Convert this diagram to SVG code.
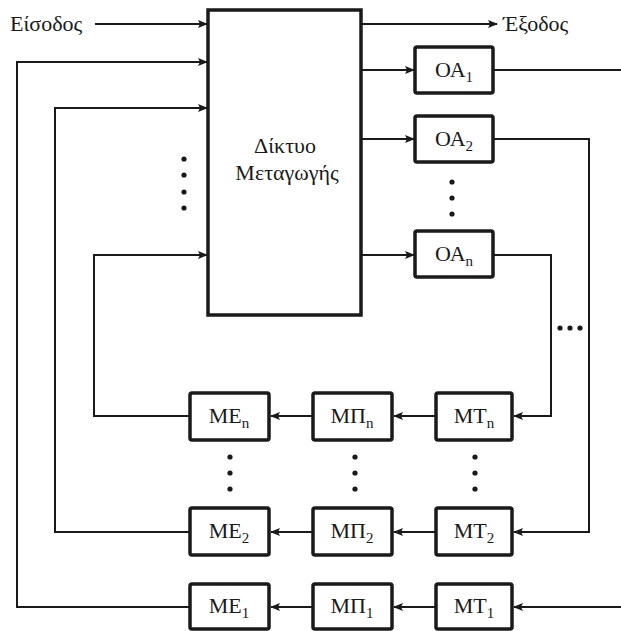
<svg xmlns="http://www.w3.org/2000/svg" width="621" height="631" viewBox="0 0 621 631">
<style>
.box{fill:#fff;stroke:#1a1a1a;stroke-width:3.5}
.ln{fill:none;stroke:#1a1a1a;stroke-width:2}
.t{font-family:"Liberation Serif","DejaVu Serif",serif;font-size:22px;fill:#1a1a1a}
.c{text-anchor:middle}
.s{font-size:15px}
.dot{fill:#1a1a1a}
</style>
<defs>
<marker id="ah" markerWidth="10" markerHeight="8" refX="9" refY="4" orient="auto" markerUnits="userSpaceOnUse">
<path d="M0,0 L10,4 L0,8 L2,4 Z" fill="#1a1a1a"/>
</marker>
</defs>
<rect width="621" height="631" fill="#fff"/>
<g id="connectors">
<path class="ln" d="M95,24 H207" marker-end="url(#ah)"/>
<path class="ln" d="M362,24 H497" marker-end="url(#ah)"/>
<path class="ln" d="M362,70 H414" marker-end="url(#ah)"/>
<path class="ln" d="M362,139 H414" marker-end="url(#ah)"/>
<path class="ln" d="M362,255 H414" marker-end="url(#ah)"/>
<path class="ln" d="M494,70 H621"/>
<path class="ln" d="M494,139 H589 V532 H514" marker-end="url(#ah)"/>
<path class="ln" d="M494,255 H551 V416 H514" marker-end="url(#ah)"/>
<path class="ln" d="M621,607 H514" marker-end="url(#ah)"/>
<path class="ln" d="M436,416 H394" marker-end="url(#ah)"/>
<path class="ln" d="M313,416 H271" marker-end="url(#ah)"/>
<path class="ln" d="M436,532 H394" marker-end="url(#ah)"/>
<path class="ln" d="M313,532 H271" marker-end="url(#ah)"/>
<path class="ln" d="M436,607 H394" marker-end="url(#ah)"/>
<path class="ln" d="M313,607 H271" marker-end="url(#ah)"/>
<path class="ln" d="M190,416 H94 V255 H207" marker-end="url(#ah)"/>
<path class="ln" d="M190,532 H55 V108 H207" marker-end="url(#ah)"/>
<path class="ln" d="M190,607 H17 V62 H207" marker-end="url(#ah)"/>
</g>
<g id="labels">
<text class="t" x="10" y="31">Είσοδος</text>
<text class="t" x="503" y="31">Έξοδος</text>
</g>
<g id="switch">
<rect class="box" x="208" y="10" width="153" height="305"/>
<text class="t c" x="285" y="153">Δίκτυο</text>
<text class="t c" x="287" y="180">Μεταγωγής</text>
</g>
<g id="oa1"><rect class="box" x="415" y="47" width="78" height="46" rx="2"/><text class="t c" x="454" y="77">ΟΑ<tspan class="s" dy="5">1</tspan></text></g>
<g id="oa2"><rect class="box" x="415" y="116" width="78" height="46" rx="2"/><text class="t c" x="454" y="146">ΟΑ<tspan class="s" dy="5">2</tspan></text></g>
<g id="oan"><rect class="box" x="415" y="231" width="78" height="46" rx="2"/><text class="t c" x="454" y="261">ΟΑ<tspan class="s" dy="5">n</tspan></text></g>
<g id="men"><rect class="box" x="190" y="393" width="79" height="47" rx="2"/><text class="t c" x="229" y="423">ΜΕ<tspan class="s" dy="5">n</tspan></text></g>
<g id="mpn"><rect class="box" x="313" y="393" width="79" height="47" rx="2"/><text class="t c" x="352" y="423">ΜΠ<tspan class="s" dy="5">n</tspan></text></g>
<g id="mtn"><rect class="box" x="436" y="393" width="76" height="47" rx="2"/><text class="t c" x="474" y="423">ΜΤ<tspan class="s" dy="5">n</tspan></text></g>
<g id="me2"><rect class="box" x="190" y="508" width="79" height="47" rx="2"/><text class="t c" x="229" y="538">ΜΕ<tspan class="s" dy="5">2</tspan></text></g>
<g id="mp2"><rect class="box" x="313" y="508" width="79" height="47" rx="2"/><text class="t c" x="352" y="538">ΜΠ<tspan class="s" dy="5">2</tspan></text></g>
<g id="mt2"><rect class="box" x="436" y="508" width="76" height="47" rx="2"/><text class="t c" x="474" y="538">ΜΤ<tspan class="s" dy="5">2</tspan></text></g>
<g id="me1"><rect class="box" x="190" y="584" width="79" height="45" rx="2"/><text class="t c" x="229" y="613">ΜΕ<tspan class="s" dy="5">1</tspan></text></g>
<g id="mp1"><rect class="box" x="313" y="584" width="79" height="45" rx="2"/><text class="t c" x="352" y="613">ΜΠ<tspan class="s" dy="5">1</tspan></text></g>
<g id="mt1"><rect class="box" x="436" y="584" width="76" height="45" rx="2"/><text class="t c" x="474" y="613">ΜΤ<tspan class="s" dy="5">1</tspan></text></g>
<g id="dots">
<circle class="dot" cx="184" cy="159" r="2.6"/><circle class="dot" cx="184" cy="175" r="2.6"/><circle class="dot" cx="184" cy="192" r="2.6"/><circle class="dot" cx="184" cy="208" r="2.6"/>
<circle class="dot" cx="452" cy="182" r="2.6"/><circle class="dot" cx="452" cy="198" r="2.6"/><circle class="dot" cx="452" cy="214" r="2.6"/>
<circle class="dot" cx="560" cy="328" r="2.6"/><circle class="dot" cx="570" cy="328" r="2.6"/><circle class="dot" cx="580" cy="328" r="2.6"/>
<circle class="dot" cx="230" cy="457" r="2.6"/><circle class="dot" cx="230" cy="473" r="2.6"/><circle class="dot" cx="230" cy="489" r="2.6"/>
<circle class="dot" cx="355" cy="457" r="2.6"/><circle class="dot" cx="355" cy="473" r="2.6"/><circle class="dot" cx="355" cy="489" r="2.6"/>
<circle class="dot" cx="475" cy="457" r="2.6"/><circle class="dot" cx="475" cy="473" r="2.6"/><circle class="dot" cx="475" cy="489" r="2.6"/>
</g>
</svg>
